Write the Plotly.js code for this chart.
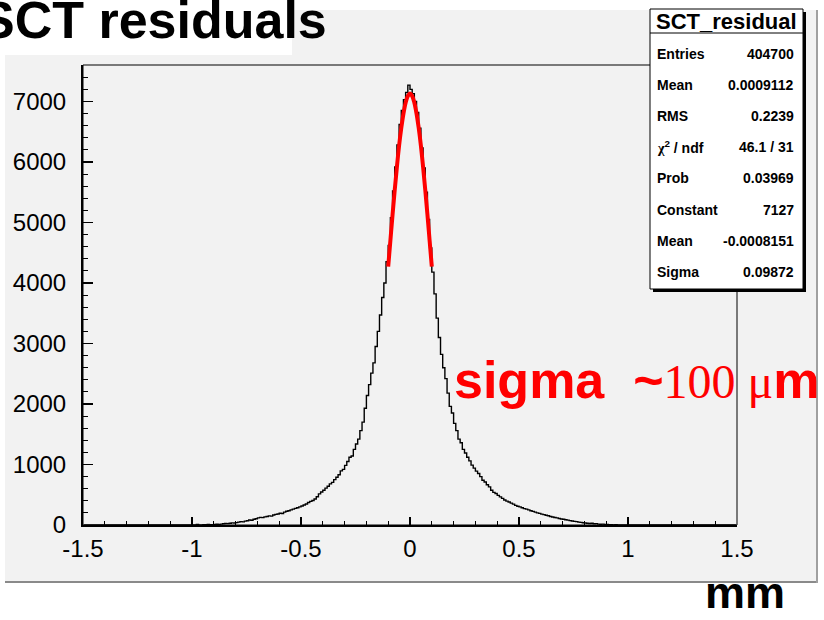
<!DOCTYPE html>
<html><head><meta charset="utf-8">
<script src="https://cdn.plot.ly/plotly-3.0.1.min.js"></script>
<style>html,body{margin:0;padding:0;background:#fff;}#chart{width:824px;height:620px;}</style>
</head><body><div id="chart"></div>
<script>
// ---- data ----
const binStart = -1.5;
const binWidth = 0.01;
// bins -1.5 .. -1.0
const countsFarLeft = [
 0,0,0,0,0,0,0,0,0,0, 0,0,0,0,0,0,0,0,0,0, 0,0,0,0,0,0,0,0,0,0,
 0,0,0,0,0,0,0,0,0,0, 0,0,0,0,0,0,0,0,0,0];
// bins -1.0 .. 0.0
const countsLeft = [
 0,0,8,0,0,3,5,10,4,6,
 8,12,10,15,20,26,22,30,35,32,
 40,48,55,52,64,70,82,78,95,104,
 118,126,122,135,140,150,146,166,175,182,
 194,190,212,228,236,250,262,275,286,300,
 315,330,348,372,390,405,430,468,515,545,
 575,610,640,680,705,750,790,830,895,920,
 985,1050,1120,1140,1250,1340,1420,1560,1700,1930,
 2140,2320,2510,2680,2950,3200,3470,3760,4000,4350,
 4620,5080,5520,5920,6280,6620,6850,7030,7150,7270];
// bins 0.0 .. 1.0
const countsRight = [
 7200,7130,7000,6820,6560,6230,5900,5500,5050,4580,
 4180,3820,3420,3100,2820,2600,2420,2180,1960,1850,
 1680,1560,1420,1360,1250,1190,1120,1060,990,940,
 890,850,800,740,710,665,630,575,540,520,
 490,465,440,412,395,380,362,345,325,310,
 300,285,270,262,250,236,225,212,200,192,
 180,172,160,152,140,132,125,118,108,100,
 94,88,80,72,66,60,55,48,44,38,
 34,30,25,28,20,22,15,12,14,8,
 10,5,6,0,3,0,0,0,0,0];
// bins 1.0 .. 1.5
const countsFarRight = [
 0,0,0,0,0,0,0,0,0,0, 0,0,0,0,0,0,0,0,0,0, 0,0,0,0,0,0,0,0,0,0,
 0,0,0,0,0,0,0,0,0,0, 0,0,0,0,0,0,0,0,0,0];

// gaussian fit curve as drawn (red)
const fitX = [-0.10,-0.09,-0.08,-0.07,-0.06,-0.05,-0.04,-0.03,-0.02,-0.01,0,
              0.01,0.02,0.03,0.04,0.05,0.06,0.07,0.08,0.09,0.10];
const fitY = [4270,4700,5130,5540,5920,6270,6560,6800,6980,7090,7130,
              7090,6980,6800,6560,6270,5920,5540,5130,4700,4270];

const xTickVals = [-1.5,-1,-0.5,0,0.5,1,1.5];
const xTickText = ['-1.5','-1','-0.5','0','0.5','1','1.5'];
const yTickVals = [0,1000,2000,3000,4000,5000,6000,7000];
const yTickText = ['0','1000','2000','3000','4000','5000','6000','7000'];

const statsTitle = 'SCT_residual';
const statLabels = ['Entries','Mean','RMS','<span style="font-family:Liberation Serif">χ</span><sup>2</sup> / ndf','Prob','Constant','Mean','Sigma'];
const statValues = ['404700','0.0009112','0.2239','46.1 / 31','0.03969','7127','-0.0008151','0.09872'];

// ---- build ----
const counts = countsFarLeft.concat(countsLeft, countsRight, countsFarRight);
const centers = counts.map((_, i) => binStart + (i + 0.5) * binWidth);

const L = 83, R = 737, T = 65, B = 525;
const px = v => (v - L) / (R - L);
const py = v => (B - v) / (B - T);
const SANS = 'Liberation Sans, Arial, Helvetica, sans-serif';

const traces = [
  {x: centers, y: counts, type: 'scatter', mode: 'lines',
   line: {shape: 'hvh', color: '#000', width: 1.4}, hoverinfo: 'skip'},
  {x: fitX, y: fitY, type: 'scatter', mode: 'lines',
   line: {shape: 'spline', color: '#ff0000', width: 4}, hoverinfo: 'skip'}
];

const shapes = [
  // pad background
  {type:'rect', xref:'paper', yref:'paper', x0:px(5), x1:px(817), y0:py(582), y1:py(10),
   fillcolor:'#f2f2f2', line:{width:0}, layer:'below'},
  // pad border (dark bottom/right)
  {type:'line', xref:'paper', yref:'paper', x0:px(5), x1:px(818), y0:py(582), y1:py(582),
   line:{color:'#8a8a8a', width:2}},
  {type:'line', xref:'paper', yref:'paper', x0:px(817), x1:px(817), y0:py(10), y1:py(583),
   line:{color:'#a0a0a0', width:2}},
  // title box
  {type:'rect', xref:'paper', yref:'paper', x0:px(0), x1:px(292), y0:py(55), y1:py(0),
   fillcolor:'#ffffff', line:{width:0}},
  // frame
  {type:'rect', xref:'paper', yref:'paper', x0:0, x1:1, y0:0, y1:1,
   line:{color:'#000', width:1}, fillcolor:'rgba(0,0,0,0)'},
  // stats box shadow
  {type:'rect', xref:'paper', yref:'paper', x0:px(653), x1:px(806), y0:py(292), y1:py(12),
   fillcolor:'#000', line:{width:0}},
  // stats box
  {type:'rect', xref:'paper', yref:'paper', x0:px(650), x1:px(803), y0:py(289), y1:py(9),
   fillcolor:'#fff', line:{color:'#000', width:1}},
  {type:'line', xref:'paper', yref:'paper', x0:px(650), x1:px(803), y0:py(33), y1:py(33),
   line:{color:'#000', width:1}}
];

const annotations = [
  {xref:'paper', yref:'paper', x:px(329), y:py(20), xanchor:'right', yanchor:'middle',
   text:'<b>SCT residuals</b>', showarrow:false, font:{family:SANS, size:52, color:'#000'}},
  {xref:'paper', yref:'paper', x:px(726), y:py(22), xanchor:'center', yanchor:'middle',
   text:'<b>' + statsTitle + '</b>', showarrow:false, font:{family:SANS, size:22, color:'#000'}},
  {xref:'paper', yref:'paper', x:px(452), y:py(380), xanchor:'left', yanchor:'middle',
   text:'<b>sigma&nbsp;&nbsp;~</b><span style="font-family:Liberation Serif;font-size:48px">100 μ</span><b>m</b>',
   showarrow:false, font:{family:SANS, size:52, color:'#ff0000'}},
  {xref:'paper', yref:'paper', x:px(745), y:py(620), xanchor:'center', yanchor:'bottom',
   text:'<b>mm</b>', showarrow:false, font:{family:SANS, size:45, color:'#000'}}
];
statLabels.forEach((lab, i) => {
  const yy = py(54 + 31.1 * i);
  annotations.push({xref:'paper', yref:'paper', x:px(655), y:yy, xanchor:'left', yanchor:'middle',
    text:'<b>' + lab + '</b>', showarrow:false, font:{family:SANS, size:14, color:'#000'}});
  annotations.push({xref:'paper', yref:'paper', x:px(796), y:yy, xanchor:'right', yanchor:'middle',
    text:'<b>' + statValues[i] + '</b>', showarrow:false, font:{family:SANS, size:14, color:'#000'}});
});

const layout = {
  width: 824, height: 620,
  margin: {l: L, r: 824 - R, t: T, b: 620 - B, pad: 0},
  paper_bgcolor: '#ffffff', plot_bgcolor: '#f2f2f2',
  showlegend: false, hovermode: false,
  xaxis: {range: [-1.5, 1.5], tickmode: 'array', tickvals: xTickVals, ticktext: xTickText,
    ticks: 'inside', ticklen: 8, tickwidth: 1.5, tickcolor: '#000',
    showline: true, linecolor: '#000', linewidth: 2, showgrid: false, zeroline: false,
    ticklabelstandoff: 1,
    tickfont: {family: SANS, size: 24, color: '#000'},
    minor: {tickmode: 'linear', tick0: 0, dtick: 0.1, ticks: 'inside', ticklen: 4,
            tickwidth: 1, tickcolor: '#000', showgrid: false}},
  yaxis: {range: [0, 7603], tickmode: 'array', tickvals: yTickVals, ticktext: yTickText,
    ticks: 'inside', ticklen: 10, tickwidth: 1.5, tickcolor: '#000',
    showline: true, linecolor: '#000', linewidth: 2, showgrid: false, zeroline: false,
    ticklabelstandoff: 10,
    tickfont: {family: SANS, size: 24, color: '#000'},
    minor: {tickmode: 'linear', tick0: 0, dtick: 200, ticks: 'inside', ticklen: 5,
            tickwidth: 1, tickcolor: '#000', showgrid: false}},
  shapes: shapes,
  annotations: annotations
};

Plotly.newPlot('chart', traces, layout, {displayModeBar: false, staticPlot: true});
</script>
</body></html>
